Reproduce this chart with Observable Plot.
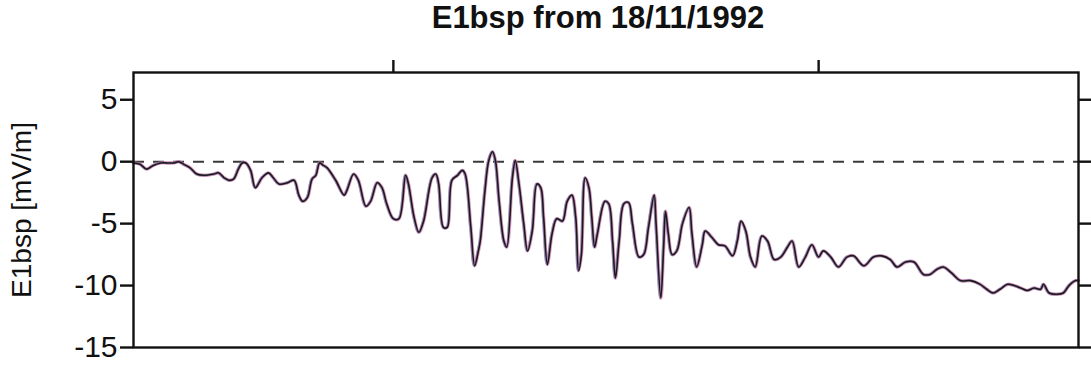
<!DOCTYPE html>
<html>
<head>
<meta charset="utf-8">
<script src="https://cdn.jsdelivr.net/npm/d3@7"></script>
<script src="https://cdn.jsdelivr.net/npm/@observablehq/plot@0.6"></script>
<style>
  html, body { margin: 0; padding: 0; background: #fff; }
  #wrap { width: 1091px; height: 365px; position: relative; overflow: hidden; }
  #title { height: 48px; line-height: 48px; font: bold 31px "Liberation Sans", Arial, sans-serif; color: #111; text-align: center; padding-left: 105px; box-sizing: border-box; width: 1091px; }
</style>
</head>
<body>
<div id="wrap">
  <div id="title">E1bsp from 18/11/1992</div>
  <div id="chart"></div>
</div>
<script>
// time (fraction of the record, 0-100) and E1bsp values [mV/m]
const time = [0.0,0.7,1.4,2.1,2.9,3.6,4.3,4.8,5.3,6.0,6.7,7.4,8.5,9.0,9.6,10.1,10.6,11.1,11.5,11.9,12.4,12.9,13.6,14.3,14.8,15.4,16.3,17.0,17.5,17.9,18.4,18.9,19.3,19.7,20.1,
  20.5,21.4,22.3,22.6,23.3,23.8,24.6,25.1,25.8,26.3,26.8,27.5,28.1,28.8,29.1,29.7,30.2,30.7,31.6,32.0,32.3,32.8,33.2,33.7,34.3,34.8,35.1,35.7,36.1,36.5,
  36.7,37.2,37.6,38.0,38.3,38.7,39.2,39.5,40.1,40.4,40.8,41.3,41.7,42.2,42.7,43.1,43.4,43.8,44.3,44.8,45.4,45.9,46.4,46.8,47.1,47.4,47.8,48.2,48.5,48.8,
  49.1,49.9,50.3,50.7,51.0,51.4,51.9,52.4,52.8,53.5,54.0,54.5,55.1,55.3,55.8,56.1,56.3,56.6,57.0,57.5,58.1,58.8,59.1,59.6,60.2,60.5,61.2,61.9,
  62.6,63.4,63.9,64.3,64.8,65.3,65.8,66.5,67.1,67.8,68.5,69.2,69.7,70.4,71.1,71.8,72.5,73.0,73.8,74.6,75.5,76.2,77.3,78.3,79.2,80.1,
  80.8,81.7,82.6,83.6,84.3,85.0,85.7,86.6,87.5,88.6,89.6,90.3,91.0,91.7,92.5,93.2,93.9,94.6,95.3,96.0,96.3,96.9,97.7,98.4,99.0,99.7,100.0];
const e1bsp = [-0.1,-0.2,-0.6,-0.3,-0.1,-0.1,-0.1,0.0,-0.2,-0.5,-1.0,-1.1,-1.0,-0.9,-1.3,-1.5,-1.4,-0.6,-0.1,-0.1,-0.7,-2.1,-1.3,-0.9,-1.3,-1.8,-1.7,-1.5,-2.7,-3.2,-2.9,-1.4,-1.1,-0.1,-0.3,
  -0.5,-1.5,-2.7,-2.3,-1.0,-1.5,-3.6,-3.2,-1.7,-2.1,-3.4,-4.6,-4.6,-1.1,-1.8,-4.5,-5.7,-4.8,-1.3,-1.0,-1.8,-5.3,-5.3,-1.5,-1.1,-0.7,-1.0,-5.3,-8.4,-7.2,
  -6.4,-2.3,0.1,0.8,0.1,-3.2,-6.4,-6.9,-1.3,0.1,-1.8,-5.0,-7.2,-5.6,-1.8,-2.1,-4.5,-8.3,-5.8,-4.6,-4.8,-3.2,-2.7,-4.5,-8.8,-7.5,-1.3,-2.1,-4.5,-6.9,
  -5.8,-3.2,-3.4,-6.4,-9.4,-6.4,-3.4,-3.3,-5.0,-7.7,-7.5,-5.3,-2.7,-5.0,-11.0,-6.9,-4.0,-5.8,-7.5,-7.2,-5.0,-3.7,-5.8,-8.5,-6.7,-5.6,-6.1,-6.7,
  -6.8,-7.6,-6.4,-4.8,-5.6,-7.7,-8.5,-6.0,-6.4,-7.9,-7.7,-6.9,-6.4,-8.5,-7.7,-6.7,-7.7,-7.2,-7.7,-8.5,-7.7,-7.6,-8.4,-7.7,-7.6,-7.9,
  -8.5,-8.1,-8.1,-9.1,-9.1,-8.7,-8.5,-9.0,-9.6,-9.6,-9.9,-10.3,-10.6,-10.3,-9.9,-10.0,-10.2,-10.4,-10.2,-10.3,-9.9,-10.6,-10.7,-10.6,-10.0,-9.6,-9.6];
const yTicks = [5, 0, -5, -10, -15];
const xTopTicks = [27.5, 72.5];
const refLevel = [0];

const data = time.map((t, i) => ({t, v: e1bsp[i]}));
const font = "Liberation Sans, Arial, sans-serif";

const chart = Plot.plot({
  width: 1091,
  height: 317,
  marginTop: 24,
  marginBottom: 18,
  marginLeft: 133,
  marginRight: 13,
  style: {fontFamily: font, color: "#111", background: "#fff"},
  x: {domain: [0, 100]},
  y: {domain: [-15, 7.2]},
  marks: [
    Plot.ruleY(refLevel, {stroke: "#3a3a3a", strokeWidth: 2, strokeDasharray: "11,9"}),
    Plot.line(data, {x: "t", y: "v", curve: "catmull-rom", stroke: "#d476a8", strokeWidth: 3.4, strokeOpacity: 0.75}),
    Plot.line(data, {x: "t", y: "v", curve: "catmull-rom", stroke: "#5a6fb0", strokeWidth: 2.4, strokeOpacity: 0.5, dx: -0.7}),
    Plot.line(data, {x: "t", y: "v", curve: "catmull-rom", stroke: "#1a1a1a", strokeWidth: 1.6}),
    Plot.frame({stroke: "#111", strokeWidth: 2.4}),
    Plot.axisY({anchor: "left", ticks: yTicks, tickSize: 13, tickPadding: 3, strokeWidth: 2.4, fontSize: 30, tickFormat: d => String(d), label: "E1bsp [mV/m]", labelAnchor: "center", labelArrow: "none", labelOffset: 122}),
    Plot.axisY({anchor: "right", ticks: yTicks, tickSize: 13, strokeWidth: 2.4, tickFormat: () => "", label: null}),
    Plot.axisX({anchor: "top", ticks: xTopTicks, tickSize: 13, strokeWidth: 2.4, tickFormat: () => "", label: null})
  ]
});
document.getElementById("chart").appendChild(chart);
// size the y-axis title
chart.querySelectorAll("g[aria-label='y-axis label'] text").forEach(t => t.setAttribute("font-size", 28));
</script>
</body>
</html>
